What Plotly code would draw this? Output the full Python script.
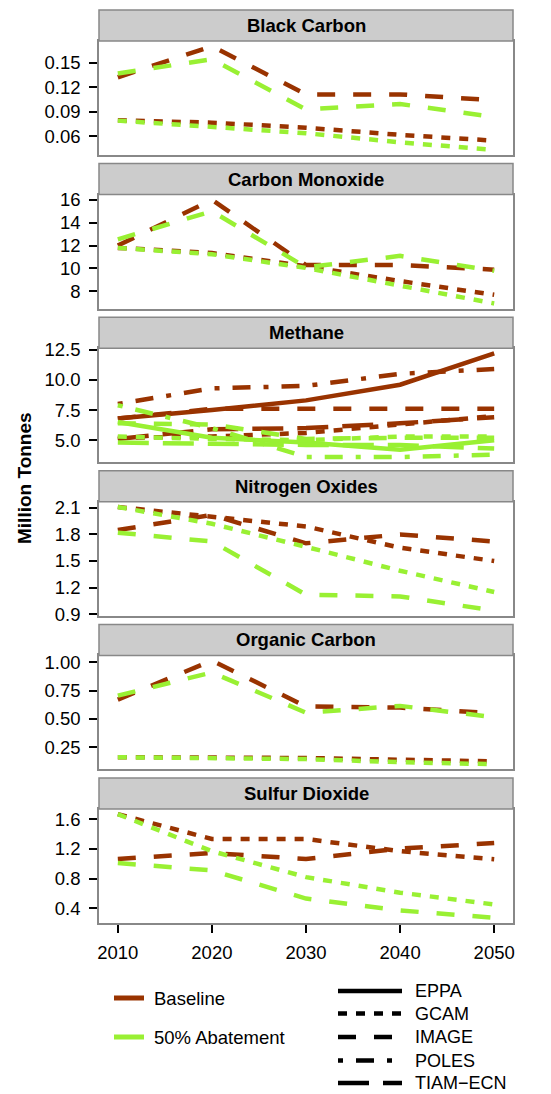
import plotly.graph_objects as go

# ---------------- data ----------------
years = [2010, 2020, 2030, 2040, 2050]
year_ticks = ["2010", "2020", "2030", "2040", "2050"]
pollutants = ["Black Carbon", "Carbon Monoxide", "Methane",
              "Nitrogen Oxides", "Organic Carbon", "Sulfur Dioxide"]
models = ["EPPA", "GCAM", "IMAGE", "POLES", "TIAM\u2212ECN"]
scenarios = ["Baseline", "50% Abatement"]

# Black Carbon
bc_gcam_base = [0.0794, 0.0765, 0.0703, 0.0616, 0.0545]
bc_gcam_abate = [0.0790, 0.0719, 0.0636, 0.0524, 0.0433]
bc_image_base = [0.132, 0.170, 0.111, 0.111, 0.104]
bc_image_abate = [0.1367, 0.154, 0.0927, 0.0993, 0.0835]
bc_ticks = [0.06, 0.09, 0.12, 0.15]
bc_ticklabels = ["0.06", "0.09", "0.12", "0.15"]

# Carbon Monoxide
co_gcam_base = [11.8, 11.35, 10.2, 8.9, 7.7]
co_gcam_abate = [11.8, 11.25, 10.05, 8.5, 6.95]
co_image_base = [12.0, 16.0, 10.3, 10.3, 9.9]
co_image_abate = [12.55, 15.0, 10.1, 11.1, 9.8]
co_ticks = [8, 10, 12, 14, 16]
co_ticklabels = ["8", "10", "12", "14", "16"]

# Methane
ch4_eppa_base = [6.8, 7.5, 8.3, 9.6, 12.2]
ch4_eppa_abate = [6.5, 5.2, 4.8, 4.2, 5.0]
ch4_gcam_base = [5.2, 5.3, 5.6, 6.3, 7.0]
ch4_gcam_abate = [5.3, 5.1, 5.0, 5.3, 5.3]
ch4_image_base = [6.8, 7.6, 7.6, 7.6, 7.6]
ch4_image_abate = [6.4, 6.3, 5.1, 5.2, 5.2]
ch4_poles_base = [8.0, 9.3, 9.5, 10.5, 10.9]
ch4_poles_abate = [7.9, 6.0, 3.6, 3.6, 3.8]
ch4_tiam_base = [5.1, 5.9, 6.0, 6.4, 6.9]
ch4_tiam_abate = [4.8, 4.7, 4.6, 4.6, 4.3]
ch4_ticks = [5.0, 7.5, 10.0, 12.5]
ch4_ticklabels = ["5.0", "7.5", "10.0", "12.5"]

# Nitrogen Oxides
nox_gcam_base = [2.11, 2.0, 1.89, 1.65, 1.50]
nox_gcam_abate = [2.11, 1.92, 1.66, 1.39, 1.15]
nox_image_base = [1.85, 2.02, 1.70, 1.80, 1.72]
nox_image_abate = [1.82, 1.72, 1.12, 1.10, 0.94]
nox_ticks = [0.9, 1.2, 1.5, 1.8, 2.1]
nox_ticklabels = ["0.9", "1.2", "1.5", "1.8", "2.1"]

# Organic Carbon
oc_gcam_base = [0.162, 0.160, 0.155, 0.140, 0.125]
oc_gcam_abate = [0.162, 0.158, 0.145, 0.118, 0.100]
oc_image_base = [0.67, 1.015, 0.61, 0.60, 0.55]
oc_image_abate = [0.705, 0.91, 0.555, 0.615, 0.515]
oc_ticks = [0.25, 0.50, 0.75, 1.00]
oc_ticklabels = ["0.25", "0.50", "0.75", "1.00"]

# Sulfur Dioxide
so2_gcam_base = [1.67, 1.335, 1.335, 1.17, 1.06]
so2_gcam_abate = [1.67, 1.17, 0.82, 0.61, 0.45]
so2_image_base = [1.065, 1.145, 1.065, 1.205, 1.28]
so2_image_abate = [1.01, 0.91, 0.53, 0.37, 0.27]
so2_ticks = [0.4, 0.8, 1.2, 1.6]
so2_ticklabels = ["0.4", "0.8", "1.2", "1.6"]

# ---------------- assembly ----------------
panels = [
    ("Black Carbon", [("GCAM", bc_gcam_base, bc_gcam_abate),
                      ("IMAGE", bc_image_base, bc_image_abate)], bc_ticks, bc_ticklabels),
    ("Carbon Monoxide", [("GCAM", co_gcam_base, co_gcam_abate),
                         ("IMAGE", co_image_base, co_image_abate)], co_ticks, co_ticklabels),
    ("Methane", [("EPPA", ch4_eppa_base, ch4_eppa_abate),
                 ("GCAM", ch4_gcam_base, ch4_gcam_abate),
                 ("IMAGE", ch4_image_base, ch4_image_abate),
                 ("POLES", ch4_poles_base, ch4_poles_abate),
                 ("TIAM\u2212ECN", ch4_tiam_base, ch4_tiam_abate)], ch4_ticks, ch4_ticklabels),
    ("Nitrogen Oxides", [("GCAM", nox_gcam_base, nox_gcam_abate),
                         ("IMAGE", nox_image_base, nox_image_abate)], nox_ticks, nox_ticklabels),
    ("Organic Carbon", [("GCAM", oc_gcam_base, oc_gcam_abate),
                        ("IMAGE", oc_image_base, oc_image_abate)], oc_ticks, oc_ticklabels),
    ("Sulfur Dioxide", [("GCAM", so2_gcam_base, so2_gcam_abate),
                        ("IMAGE", so2_image_base, so2_image_abate)], so2_ticks, so2_ticklabels),
]

COLORS = {"Baseline": "#993300", "50% Abatement": "#99F033"}
DASH = {"EPPA": "solid", "GCAM": "9px,9px", "IMAGE": "18px,18px",
        "POLES": "5px,13px,18px,13px", "TIAM\u2212ECN": "31px,14px"}
LW = 4.5
FONT = "Liberation Sans, Arial, Helvetica, sans-serif"
BORDER = "#888888"

W, H = 551, 1094
def fx(p):
    return p / W
def fy(p):
    return 1 - p / H

PLOT_L, PLOT_R = 99, 513
TOP0, PITCH, STRIP_H, PANEL_H = 10, 153.6, 31, 114

fig = go.Figure()
shapes = []
annotations = []
n_panels = len(panels)

for i, (title, series, ticks, ticklabels) in enumerate(panels):
    suffix = "" if i == 0 else str(i + 1)
    xa, ya = "x" + suffix, "y" + suffix
    strip_top = TOP0 + i * PITCH
    plot_top = strip_top + STRIP_H
    plot_bot = plot_top + PANEL_H

    allv = []
    for scen_idx, scen in enumerate(scenarios):
        for model, base, abate in series:
            vals = base if scen_idx == 0 else abate
            allv += vals
            fig.add_trace(go.Scatter(
                x=years, y=vals, mode="lines", xaxis=xa, yaxis=ya,
                line=dict(color=COLORS[scen], width=LW, dash=DASH[model]),
                showlegend=False, hoverinfo="skip"))
    lo, hi = min(allv), max(allv)
    pad = 0.05 * (hi - lo)

    last = (i == n_panels - 1)
    fig.layout["xaxis" + suffix] = dict(
        domain=[fx(PLOT_L), fx(PLOT_R)], anchor=ya, automargin=False,
        range=[2008, 2052], tickvals=years, ticktext=year_ticks,
        showticklabels=last, ticks="outside" if last else "",
        ticklen=8, tickwidth=1.5, tickcolor="black",
        ticklabelstandoff=4,
        showline=True, mirror=True, linecolor=BORDER, linewidth=1.5,
        showgrid=False, zeroline=False,
        tickfont=dict(family=FONT, size=18.5, color="black"),
        **({} if i == 0 else {"matches": "x"}))
    fig.layout["yaxis" + suffix] = dict(
        domain=[fy(plot_bot), fy(plot_top)], anchor=xa, automargin=False,
        range=[lo - pad, hi + pad], tickvals=ticks, ticktext=ticklabels,
        ticks="outside", ticklen=8, tickwidth=1.5, tickcolor="black",
        ticklabelstandoff=5,
        showline=True, mirror=True, linecolor=BORDER, linewidth=1.5,
        showgrid=False, zeroline=False,
        tickfont=dict(family=FONT, size=18.5, color="black"))

    shapes.append(dict(type="rect", xref="paper", yref="paper",
                       x0=fx(PLOT_L), x1=fx(PLOT_R),
                       y0=fy(strip_top + STRIP_H), y1=fy(strip_top),
                       fillcolor="#CCCCCC", line=dict(color=BORDER, width=1.5),
                       layer="above"))
    annotations.append(dict(text="<b>" + title + "</b>", xref="paper", yref="paper",
                            x=fx((PLOT_L + PLOT_R) / 2), y=fy(strip_top + STRIP_H / 2),
                            xanchor="center", yanchor="middle", showarrow=False,
                            font=dict(family=FONT, size=18.5, color="black")))

# y axis title
annotations.append(dict(text="<b>Million Tonnes</b>", xref="paper", yref="paper",
                        x=fx(25), y=fy(478), xanchor="center", yanchor="middle",
                        textangle=-90, showarrow=False,
                        font=dict(family=FONT, size=19, color="black")))

# colour legend
for k, scen in enumerate(scenarios):
    yy = [998, 1037][k]
    shapes.append(dict(type="line", xref="paper", yref="paper",
                       x0=fx(114), x1=fx(144), y0=fy(yy), y1=fy(yy),
                       line=dict(color=COLORS[scen], width=5)))
    annotations.append(dict(text=scen, xref="paper", yref="paper",
                            x=fx(152), y=fy(yy), xanchor="left", yanchor="middle",
                            showarrow=False,
                            font=dict(family=FONT, size=18.5, color="black")))

# linetype legend
for k, model in enumerate(models):
    yy = [991, 1013.5, 1037, 1060.5, 1083][k]
    shapes.append(dict(type="line", xref="paper", yref="paper",
                       x0=fx(338), x1=fx(402), y0=fy(yy), y1=fy(yy),
                       line=dict(color="black", width=LW, dash=DASH[model])))
    annotations.append(dict(text=model, xref="paper", yref="paper",
                            x=fx(413), y=fy(yy), xanchor="left", yanchor="middle",
                            showarrow=False,
                            font=dict(family=FONT, size=18, color="black")))

fig.update_layout(width=W, height=H, margin=dict(l=0, r=0, t=0, b=0, pad=0),
                  autosize=False,
                  paper_bgcolor="white", plot_bgcolor="white",
                  shapes=shapes, annotations=annotations, showlegend=False,
                  font=dict(family=FONT))
fig.write_html("out.html")
